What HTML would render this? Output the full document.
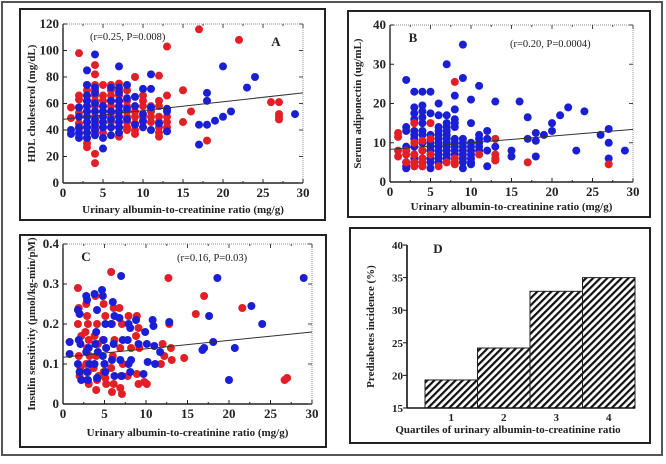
<!DOCTYPE html>
<html><head><meta charset="utf-8"><style>
body{margin:0;background:#fff;width:666px;height:464px;overflow:hidden}
svg{display:block}
text{font-family:"Liberation Serif",serif;font-weight:bold;fill:#222}
</style></head><body>
<svg id="fig" width="666" height="464" xmlns="http://www.w3.org/2000/svg">
<defs><pattern id="hatch" patternUnits="userSpaceOnUse" width="5" height="5" patternTransform="rotate(45)"><rect width="5" height="5" fill="#fff"/><rect width="2.2" height="5" fill="#111"/></pattern></defs>
<rect x="2" y="2" width="660" height="453" fill="none" stroke="#555" stroke-width="2"/>
</svg>
<script>
// Panel A data (x = UACR mg/g, y = HDL mg/dL)
const aRedX=[1,1,2,2,2,2,2,2,2,2,3,3,3,3,3,3,3,3,3,3,3,3,3,4,4,4,4,4,4,4,4,4,4,4,4,4,4,5,5,5,5,5,5,5,5,5,6,6,6,6,6,6,6,6,6,7,7,7,7,7,7,7,7,7,7,7,8,8,8,8,8,8,8,8,9,9,9,9,9,9,9,10,10,10,10,10,11,11,11,11,12,12,12,12,12,12,12,12,13,13,13,13,13,15,15,16,17,18,22,26,27,27,27,27];
const aRedY=[57,49,98,66,63,57,53,45,41,37,74,70,66,62,58,54,50,46,42,38,34,30,27,89,82,74,70,66,62,58,54,50,46,42,38,22,15,74,66,62,58,54,50,46,42,38,74,70,66,62,58,54,50,46,42,75,70,66,62,58,54,50,46,42,38,35,70,62,58,54,50,46,42,40,80,58,54,50,45,40,37,66,62,58,50,46,58,54,50,46,81,62,58,50,46,42,38,35,103,66,50,46,42,70,46,54,116,32,108,61,61,52,50,48];
const aBlueX=[1,1,2,2,2,2,2,3,3,3,3,3,3,3,3,3,3,3,4,4,4,4,4,4,4,4,4,5,5,5,5,5,5,5,6,6,6,6,6,6,7,7,7,7,7,7,7,7,7,7,8,8,8,8,9,9,9,10,10,10,10,11,11,11,11,12,13,13,13,17,17,18,18,18,19,20,20,21,23,24,29];
const aBlueY=[40,37,57,50,42,38,34,85,74,66,62,58,54,50,46,42,38,34,97,72,68,60,54,48,44,40,36,58,54,50,46,42,34,26,72,62,54,48,42,36,88,72,68,62,58,54,50,46,42,38,74,64,56,48,65,58,44,71,52,47,42,82,71,57,40,45,56,54,39,44,29,68,62,44,47,88,50,54,72,80,52];
const aTicksY=[0,20,40,60,80,100,120];
const aFit=[48,68];
// Panel B data (y = adiponectin ug/mL)
const bBlueX=[2,2,2,2,2,2,2,2,3,3,3,3,3,3,3,3,3,3,3,3,4,4,4,4,4,4,4,4,4,4,4,5,5,5,5,5,5,5,5,5,5,6,6,6,6,6,6,6,6,6,6,6,6,7,7,7,7,7,7,7,7,7,7,7,7,8,8,8,8,8,8,8,8,8,8,9,9,9,9,9,9,9,9,9,9,10,10,10,10,10,10,10,10,10,11,11,11,11,11,11,12,12,12,12,13,13,13,15,15,16,17,17,18,18,18,19,20,20,21,22,23,24,26,27,27,27,29];
const bBlueY=[26,14,13,9,7,5,4,3.5,23,19,17.5,16,13,12,11,9,7,6,5,4,23,19.5,18,16.5,15,13,12,10,8,6,4,23,17.5,12,10,9,8,7,6,5,3.5,20,17,14,13,12,11,10,9,8,7,6,5,30,17,15,14,13,12,11,10,9,8,7,6,22,18.5,16,15,14,11,10,9,8,7,35,26.5,11,10,9,8,7,6,5,3.5,21,15,10,9,8,7,6,5,4.5,24.5,12,11,10,9,8,13,11,8,4,20.5,9,5.5,8,6.5,20.5,16.5,11,12.5,10.5,6.5,12,15,13,17,19,8,18,12,13.5,10,6,8];
const bRedX=[1,1,1,1,2,2,2,3,3,3,3,3,4,4,4,4,4,5,5,5,6,7,8,8,8,8,11,13,13,13,13,17,27];
const bRedY=[12.5,11.5,8,6.5,8,7,5,15,10,7,5,4,10.5,8,6,5,4,15,11,7,4,5,25.5,6,5,4.5,7,11,7,6,5.5,5,4.5];
const bTicksY=[0,10,20,30,40];
const bFit=[8.3,13.4];
// Panel C data (y = insulin sensitivity)
const cRedX=[0.8,1.8,1.9,1.8,2.2,1.9,2.1,2,2.8,2.9,3,2.7,3.1,2.9,3.2,2.8,3,2.9,3.1,3.9,4.1,3.8,4.2,4,3.7,4.3,4.1,4,4.9,5.1,4.8,5.2,5,4.9,5.1,5.2,5.8,6.1,5.9,6.2,6,5.8,6.1,5.9,6.8,7.1,6.9,7.2,7,6.9,7.1,7.9,8.2,7.8,8.9,9.1,8.8,9.2,8.9,9.1,9.8,10.1,12,12.2,11.8,12.7,12.8,13,13.1,14.6,16,17,21.6,26.7,27];
const cRedY=[0.155,0.29,0.24,0.2,0.17,0.12,0.09,0.07,0.25,0.22,0.2,0.18,0.16,0.14,0.12,0.1,0.08,0.06,0.05,0.27,0.2,0.17,0.15,0.12,0.09,0.07,0.06,0.035,0.25,0.22,0.16,0.14,0.1,0.08,0.065,0.05,0.33,0.24,0.2,0.16,0.12,0.09,0.05,0.03,0.24,0.2,0.14,0.1,0.07,0.04,0.025,0.22,0.14,0.07,0.22,0.19,0.17,0.14,0.075,0.05,0.055,0.05,0.15,0.12,0.1,0.315,0.2,0.14,0.11,0.115,0.225,0.27,0.24,0.06,0.065];
const cBlueX=[0.8,0.8,1.8,2,1.9,2.1,1.8,2,2.2,2.8,2.9,3.1,2.8,3.2,2.9,3,3.8,4.1,4,3.9,4.2,3.8,4.1,4.7,4.8,5.1,4.9,5.2,4.8,5,5.1,6,6.2,5.8,6.1,5.9,6.2,7,6.8,7.2,6.9,7.1,7.9,8.1,7.8,8.2,7.9,8.1,8.8,9.1,9.9,10.1,9.7,10.2,10.8,10.9,11,11.1,11.7,12.8,16.8,17,18.6,17.6,18.1,20.7,20,22.7,24,29];
const cBlueY=[0.155,0.125,0.235,0.225,0.16,0.15,0.1,0.08,0.06,0.27,0.26,0.14,0.13,0.1,0.08,0.06,0.275,0.235,0.18,0.15,0.13,0.1,0.065,0.285,0.27,0.2,0.16,0.14,0.12,0.1,0.08,0.255,0.22,0.2,0.15,0.11,0.07,0.32,0.215,0.16,0.11,0.07,0.2,0.19,0.16,0.11,0.1,0.08,0.21,0.15,0.18,0.15,0.075,0.105,0.21,0.195,0.145,0.1,0.13,0.205,0.135,0.14,0.315,0.22,0.155,0.14,0.06,0.245,0.2,0.315];
const cTicksY=[0,0.1,0.2,0.3,0.4];
const cFit=[0.117,0.18];
const xTicks=[0,5,10,15,20,25,30];
// Panel D data
const dCats=["1","2","3","4"];
const dVals=[19.3,24.2,32.9,35];
const dTicksY=[15,20,25,30,35,40];

const NS="http://www.w3.org/2000/svg";
const svg=document.getElementById('fig');
function mk(tag,attrs,parent){const e=document.createElementNS(NS,tag);for(const k in attrs)e.setAttribute(k,attrs[k]);(parent||svg).appendChild(e);return e;}
function txt(s,x,y,size,parent,anchor,rot){const t=mk('text',{x:x,y:y,'font-size':size,'text-anchor':anchor||'middle'},parent);if(rot)t.setAttribute('transform','rotate(-90 '+x+' '+y+')');t.textContent=s;return t;}

function scatterPanel(p){
  const g=mk('g',{});
  
  
  const box=mk('rect',{x:p.box[0],y:p.box[1],width:p.box[2],height:p.box[3],fill:'none',stroke:'#222','stroke-width':2},g);
  
  
  const sx=v=>p.x0+(v-0)/30*(p.x1-p.x0);
  const ymin=p.ticks[0],ymax=p.ticks[p.ticks.length-1];
  const sy=v=>p.y0-(v-ymin)/(ymax-ymin)*(p.y0-p.y1);
  mk('rect',{x:p.x0,y:p.y1,width:p.x1-p.x0,height:p.y0-p.y1,fill:'none',stroke:'#666','stroke-width':0.7,'stroke-dasharray':'1 1'},g);
  mk('line',{x1:p.x0,y1:p.y0,x2:p.x1,y2:p.y0,stroke:'#222','stroke-width':1.4},g);
  mk('line',{x1:p.x0,y1:p.y0,x2:p.x0,y2:p.y1,stroke:'#222','stroke-width':1.4},g);
  xTicks.forEach((t,i)=>{
    const x=sx(t);
    mk('line',{x1:x,y1:p.y0,x2:x,y2:p.y0-4,stroke:'#222'},g);
    mk('line',{x1:x,y1:p.y1,x2:x,y2:p.y1+4,stroke:'#444'},g);
    const l=txt(String(t),x,p.y0+14,13,g);
    
    
    if(i<xTicks.length-1){const xm=sx(t+2.5);mk('line',{x1:xm,y1:p.y0,x2:xm,y2:p.y0-2,stroke:'#222'},g);mk('line',{x1:xm,y1:p.y1,x2:xm,y2:p.y1+2,stroke:'#444'},g);}
  });
  p.ticks.forEach((t,i)=>{
    const y=sy(t);
    mk('line',{x1:p.x0,y1:y,x2:p.x0+4,y2:y,stroke:'#222'},g);
    mk('line',{x1:p.x1,y1:y,x2:p.x1-4,y2:y,stroke:'#444'},g);
    const l=txt(p.fmt(t),p.x0-4,y+4,13,g,'end');
    
    
  });
  const pts=(xs,ys,col,nm)=>xs.forEach((xv,i)=>{
    const c=mk('circle',{cx:sx(xv),cy:sy(ys[i]),r:4,fill:col},g);
    
    
  });
  pts(p.rx,p.ry,'#e21f26','red-point');
  pts(p.bx,p.by,'#1a1fd6','blue-point');
  pts(p.rx2||[],p.ry2||[],'#e21f26','red-point');
  const fl=mk('line',{x1:sx(0),y1:sy(p.fit[0]),x2:sx(30),y2:sy(p.fit[1]),stroke:'#333','stroke-width':1},g);
  
  
  const xt=txt('Urinary  albumin-to-creatinine  ratio  (mg/g)',(p.x0+p.x1)/2,p.xty,11,g);
  
  
  const yt=txt(p.ytitle,p.ytx,(p.y0+p.y1)/2,11,g,'middle',true);
  
  
  const st=mk('text',{x:p.stat[0],y:p.stat[1],'font-size':10.5,'font-weight':'normal'},g);
  st.style.fontWeight='normal';
  st.textContent=p.stat[2];
  
  
  const lab=txt(p.label[2],p.label[0],p.label[1],13,g);
  
  
}

scatterPanel({name:'panel-a',box:[20,9,305,211],x0:63,x1:303,y0:183,y1:24,ticks:aTicksY,fmt:v=>String(v),
  rx:aRedX,ry:aRedY,bx:aBlueX,by:aBlueY,fit:aFit,xty:213,ytx:35,ytitle:'HDL cholesterol  (mg/dL)',
  stat:[90,40,'(r=0.25, P=0.008)'],label:[276,46,'A']});
scatterPanel({name:'panel-b',box:[348,11,302,206],x0:390,x1:633,y0:182,y1:25,ticks:bTicksY,fmt:v=>String(v),
  rx:[],ry:[],bx:bBlueX,by:bBlueY,rx2:bRedX,ry2:bRedY,fit:bFit,xty:210,ytx:361,ytitle:'Serum  adiponectin  (ug/mL)',
  stat:[510,47,'(r=0.20, P=0.0004)'],label:[413,42,'B']});
scatterPanel({name:'panel-c',box:[20,235,306,212],x0:63,x1:312,y0:404,y1:244,ticks:cTicksY,fmt:v=>v===0?'0':String(v),
  rx:cRedX,ry:cRedY,bx:cBlueX,by:cBlueY,fit:cFit,xty:436,ytx:35,ytitle:'Insulin sensitivity (µmol/kg-min/pM)',
  stat:[177,261,'(r=0.16, P=0.03)'],label:[86,261,'C']});

// Panel D
(function(){
  const g=mk('g',{});
  
  
  const b=mk('rect',{x:350,y:228,width:300,height:215,fill:'none',stroke:'#222','stroke-width':2},g);
  
  
  const X0=407,X1=635,Y0=408,Y1=245,barL=425,barW=52.5;
  const sy=v=>Y0-(v-15)/(40-15)*(Y0-Y1);
  dVals.forEach((v,i)=>{
    const r=mk('rect',{x:barL+i*barW,y:sy(v),width:barW,height:Y0-sy(v),fill:'url(#hatch)',stroke:'#222','stroke-width':1},g);
    
    
    const l=txt(dCats[i],barL+i*barW+barW/2,421,11,g);
    
    
  });
  mk('line',{x1:X0,y1:Y0,x2:X1,y2:Y0,stroke:'#111','stroke-width':1.6},g);
  mk('line',{x1:X0,y1:Y0,x2:X0,y2:Y1,stroke:'#111','stroke-width':1.6},g);
  dTicksY.forEach(t=>{
    const y=sy(t);
    mk('line',{x1:X0-4,y1:y,x2:X0,y2:y,stroke:'#111'},g);
    const l=txt(String(t),X0-4,y+4,11,g,'end');
    
    
  });
  const xt=txt('Quartiles of urinary  albumin-to-creatinine  ratio',508,433,11,g);
  
  
  const yt=txt('Prediabetes incidence (%)',374,(Y0+Y1)/2,11,g,'middle',true);
  
  
  const lab=txt('D',438,253,13,g);
  
  
})();
</script>
</body></html>
